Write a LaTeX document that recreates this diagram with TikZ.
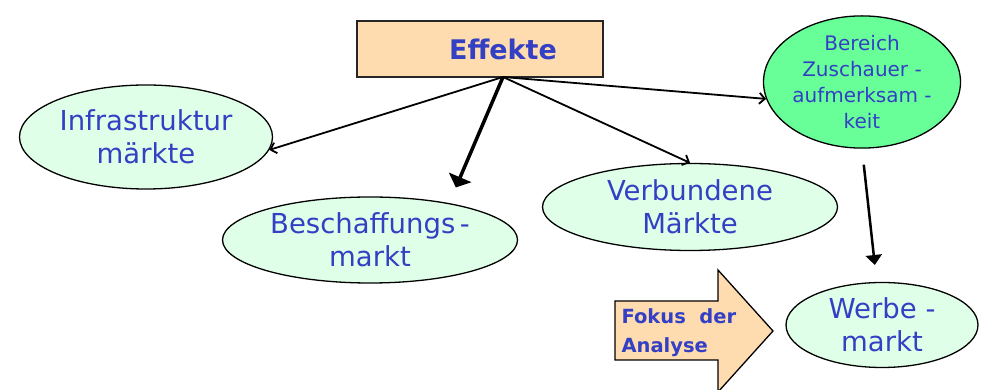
\documentclass[tikz,border=0pt]{standalone}
\usepackage{fontspec}
\setmainfont{DejaVu Sans}
\usetikzlibrary{shapes.geometric, arrows.meta}

\definecolor{txtblue}{RGB}{51,64,196}
\definecolor{mint}{RGB}{224,255,232}
\definecolor{lime}{RGB}{104,255,152}
\definecolor{peach}{RGB}{255,220,176}

\tikzset{
  markt/.style = {ellipse, draw, line width=1.3pt, fill=mint, text=txtblue,
    inner sep=0pt, align=center, font=\fontsize{27.5}{33}\selectfont},
  effektbox/.style = {rectangle, draw=black!85, line width=1.8pt, fill=peach,
    text=txtblue, minimum width=246pt, minimum height=56pt,
    font=\fontsize{27}{32}\selectfont\bfseries},
  pfeil/.style = {line width=1.8pt, -{Straight Barb[length=5.5pt,width=11pt]}},
}

\begin{document}
\begin{tikzpicture}[x=1pt, y=1pt]
	\useasboundingbox (0,0) rectangle (987,390);
	
	% box and markets
	\node[effektbox] (effekte) at (480,341) {\hspace*{46pt}Effekte};
	\coordinate (hub) at (503,313);
	\node[markt, minimum width=253pt, minimum height=104pt] (infra) at (146,253) {Infrastruktur\\märkte};
	\node[markt, minimum width=295pt, minimum height=86pt] (besch) at (370,150) {Beschaffungs\,-\\markt};
	\node[markt, minimum width=295pt, minimum height=87pt] (verb) at (690,183) {Verbundene\\Märkte};
	\node[markt, fill=lime, minimum width=197pt, minimum height=131pt, inner xsep=-10pt,
		font=\fontsize{20}{26}\selectfont] (bereich) at (862,308) {Bereich\\Zuschauer\ -\\aufmerksam\ -\\keit};
	\node[markt, minimum width=192pt, minimum height=85pt] (werbe) at (882,65) {Werbe\ -\\markt};
	
	% big arrow on the left of the Werbemarkt
	\draw[line width=1.3pt, fill=peach] (615,89) -- (718,89) -- (718,120) -- (773,59)
		-- (718,-2) -- (718,30) -- (615,30) -- cycle;
	\node[anchor=west, align=left, text=txtblue, font=\fontsize{19.5}{29}\selectfont\bfseries] (fokus) at (618,57) {Fokus\ \ der\\Analyse};
	
	% effects
	\draw[pfeil] (hub) -- (infra.-6);
	\draw[line width=3.5pt, -{Triangle[length=11pt,width=24pt]}, shorten >=17pt] (hub) -- (besch.25);
	\draw[pfeil] (hub) -- (verb.north);
	\draw[pfeil] (hub) -- (bereich.190);
	\draw[line width=2.5pt, -{Triangle[length=10pt,width=16pt]}, shorten <=16pt, shorten >=17pt] (bereich.south) -- (werbe.97);
\end{tikzpicture}
\end{document}
